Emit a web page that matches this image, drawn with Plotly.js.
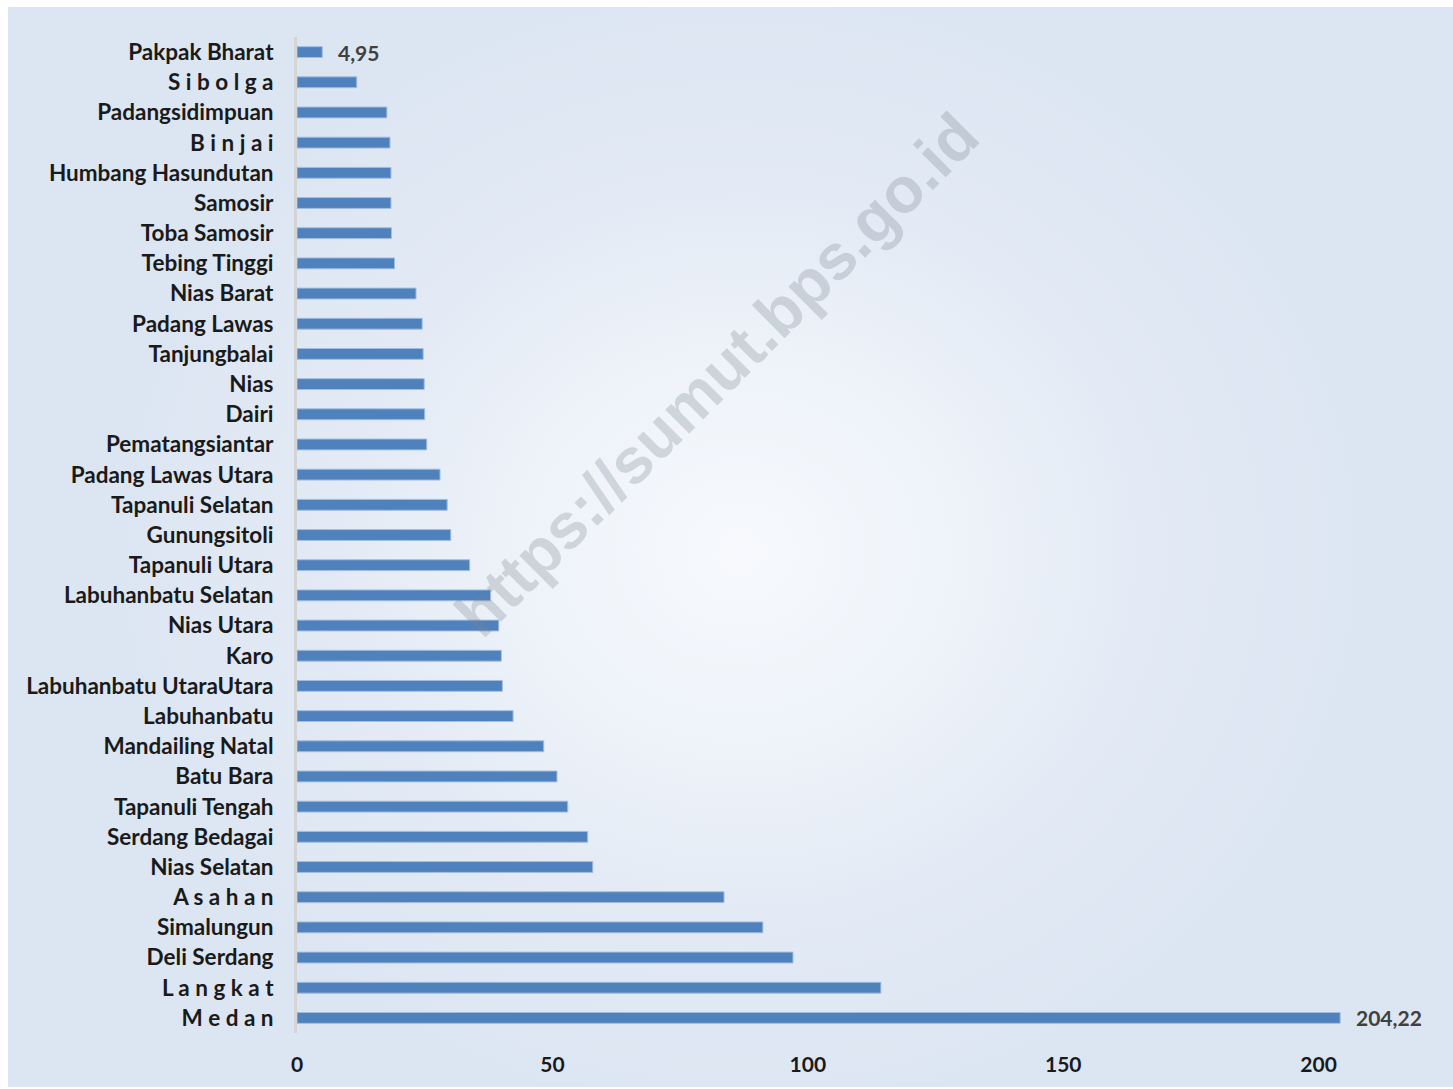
<!DOCTYPE html>
<html>
<head>
<meta charset="utf-8">
<script src="https://cdn.plot.ly/plotly-3.0.1.min.js"></script>
<style>
  html, body { margin: 0; padding: 0; background: #ffffff; }
  #wrap { position: relative; width: 1453px; height: 1089px; overflow: hidden; }
  #bg { position: absolute; left: 8px; top: 7px; width: 1445px; height: 1080px;
        background: radial-gradient(ellipse 620px 560px at 732px 545px, #f7f9fd 0%, #eef3f9 35%, #e3eaf5 65%, #dce6f2 100%); }
  #chart { position: absolute; left: 0; top: 0; width: 1453px; height: 1089px; }
</style>
</head>
<body>
<div id="wrap">
  <div id="bg"></div>
  <div id="chart"></div>
</div>
<script>
const categories = [
  "Pakpak Bharat", "S i b o l g a", "Padangsidimpuan", "B i n j a i", "Humbang Hasundutan",
  "Samosir", "Toba Samosir", "Tebing Tinggi", "Nias Barat", "Padang Lawas",
  "Tanjungbalai", "Nias", "Dairi", "Pematangsiantar", "Padang Lawas Utara",
  "Tapanuli Selatan", "Gunungsitoli", "Tapanuli Utara", "Labuhanbatu Selatan", "Nias Utara",
  "Karo", "Labuhanbatu UtaraUtara", "Labuhanbatu", "Mandailing Natal", "Batu Bara",
  "Tapanuli Tengah", "Serdang Bedagai", "Nias Selatan", "A s a h a n", "Simalungun",
  "Deli Serdang", "L a n g k a t", "M e d a n"
];
const values = [
  4.95, 11.7, 17.6, 18.2, 18.4,
  18.4, 18.5, 19.1, 23.3, 24.5,
  24.7, 24.9, 25.0, 25.4, 28.0,
  29.4, 30.1, 33.8, 37.9, 39.5,
  40.0, 40.2, 42.3, 48.3, 50.9,
  53.0, 56.9, 57.9, 83.6, 91.2,
  97.1, 114.3, 204.22
];
const labelledIndex = [0, 32];
const xTickValues = [0, 50, 100, 150, 200];
const watermarkText = "https://sumut.bps.go.id";

const fmt = v => v.toFixed(2).replace(".", ",");
const FONT = "Lato, 'Open Sans', sans-serif";

const trace = {
  type: "bar",
  orientation: "h",
  y: categories,
  x: values,
  marker: { color: "#4f81bd", line: { color: "#a3bde0", width: 1 } },
  hoverinfo: "x+y"
};

const annotations = labelledIndex.map(i => ({
  x: values[i], y: categories[i], xref: "x", yref: "y",
  text: fmt(values[i]), showarrow: false, xanchor: "left", xshift: 14,
  font: { family: FONT, size: 21, color: "#404040", weight: 700 }
}));

annotations.push({
  x: 0.370, y: 0.661, xref: "paper", yref: "paper",
  xanchor: "center", yanchor: "middle",
  text: watermarkText, showarrow: false, textangle: -45,
  font: { family: "'Liberation Sans', Arial, sans-serif", size: 64, color: "rgba(120,128,140,0.28)", weight: 700 }
});

const layout = {
  width: 1453, height: 1089,
  paper_bgcolor: "rgba(0,0,0,0)",
  plot_bgcolor: "rgba(0,0,0,0)",
  margin: { l: 297, r: 22, t: 37, b: 56 },
  bargap: 0.64,
  showlegend: false,
  font: { family: FONT, size: 20, color: "#1a1a1a" },
  xaxis: {
    range: [0, 222],
    tickvals: xTickValues,
    ticktext: xTickValues.map(String),
    showgrid: false, zeroline: false, showline: false,
    ticks: "",
    ticklabelstandoff: 17,
    tickfont: { family: FONT, size: 21, color: "#1a1a1a", weight: 700 }
  },
  yaxis: {
    type: "category",
    autorange: "reversed",
    showgrid: false, zeroline: false,
    showline: true, linecolor: "#d4d4d4", linewidth: 3,
    ticks: "",
    ticklabelstandoff: 16,
    tickfont: { family: FONT, size: 22.5, color: "#1a1a1a", weight: 700 }
  },
  annotations: annotations
};

Plotly.newPlot("chart", [trace], layout, { displayModeBar: false, staticPlot: true });
</script>
</body>
</html>
